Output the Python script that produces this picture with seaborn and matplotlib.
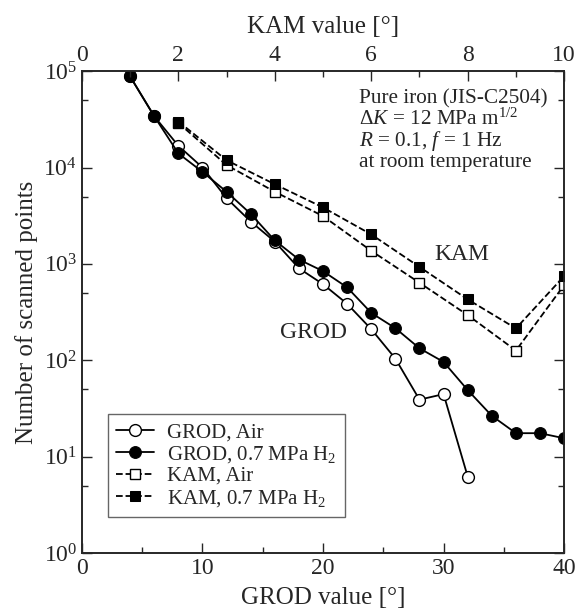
import numpy as np
import pandas as pd
import seaborn as sns
from matplotlib import pyplot as plt
from matplotlib import ticker

# GROD data (bottom axis, degrees)
grod_x_h2 = [4, 6, 8, 10, 12, 14, 16, 18, 20, 22, 24, 26, 28, 30, 32, 34, 36, 38, 40]
grod_h2 = [88000, 34000, 14000, 9000, 5600, 3300, 1750, 1110, 840, 570, 310, 215,
           133, 96, 49, 26.5, 17.5, 17.5, 15.5]
grod_x_air = [4, 6, 8, 10, 12, 14, 16, 18, 20, 22, 24, 26, 28, 30, 32]
grod_air = [88000, 34000, 16800, 10000, 4800, 2750, 1700, 900, 615, 385, 210, 104,
            39, 44.5, 6.2]

# KAM data (top axis, degrees)
kam_x = [2, 3, 4, 5, 6, 7, 8, 9, 10]
kam_h2 = [30000, 11900, 6700, 3850, 2020, 930, 428, 214, 747]
kam_air = [29000, 10600, 5600, 3130, 1365, 637, 294, 126, 603]

sns.set_style("ticks")
plt.rcParams["font.family"] = ["Liberation Serif", "DejaVu Serif"]
plt.rcParams["mathtext.fontset"] = "custom"
plt.rcParams["mathtext.rm"] = "Liberation Serif"
plt.rcParams["mathtext.it"] = "Liberation Serif:italic"
plt.rcParams["axes.linewidth"] = 1.2
plt.rcParams["xtick.direction"] = "in"
plt.rcParams["ytick.direction"] = "in"

f = plt.figure(figsize=(5.81, 6.08), dpi=100)
ax = f.add_axes([0.141, 0.0905, 0.83, 0.7925])

lw = 1.3
ms_c = 8.5
ms_s = 6.5

sns.lineplot(ax=ax, x=grod_x_air, y=grod_air, sort=False, color="k", lw=lw,
             marker="o", markersize=ms_c, markerfacecolor="white",
             markeredgecolor="k", markeredgewidth=1.0, label="GROD, Air")
sns.lineplot(ax=ax, x=grod_x_h2, y=grod_h2, sort=False, color="k", lw=lw,
             marker="o", markersize=ms_c, markerfacecolor="k",
             markeredgecolor="k", label="GROD, 0.7 MPa H$_2$")

ax2 = ax.twiny()
sns.lineplot(ax=ax2, x=kam_x, y=kam_air, sort=False, color="k", lw=lw,
             linestyle="--", marker="s", markersize=ms_s, markerfacecolor="white",
             markeredgecolor="k", markeredgewidth=1.0, label="KAM, Air")
sns.lineplot(ax=ax2, x=kam_x, y=kam_h2, sort=False, color="k", lw=lw,
             linestyle="--", marker="s", markersize=ms_s, markerfacecolor="k",
             markeredgecolor="k", label="KAM, 0.7 MPa H$_2$")

ax.set_yscale("log")
ax.set_ylim(1, 1e5)
ax.set_xlim(0, 40)
ax2.set_xlim(0, 10)

ax.xaxis.set_major_locator(ticker.MultipleLocator(10))
ax.xaxis.set_minor_locator(ticker.MultipleLocator(5))
ax2.xaxis.set_major_locator(ticker.MultipleLocator(2))
ax2.xaxis.set_minor_locator(ticker.MultipleLocator(1))
ax.yaxis.set_major_locator(ticker.LogLocator(base=10, numticks=10))
ax.yaxis.set_minor_locator(ticker.LogLocator(base=10, subs=[5], numticks=10))
ax.yaxis.set_minor_formatter(ticker.NullFormatter())
ax.yaxis.set_major_formatter(ticker.LogFormatterMathtext())

ax.tick_params(which="both", direction="in", right=True, top=False, labelsize=17, width=1.0)
ax.tick_params(which="major", length=7)
ax.tick_params(which="minor", length=4.5)
ax2.tick_params(which="both", direction="in", labelsize=17, width=1.0)
ax2.tick_params(which="major", length=7)
ax2.tick_params(which="minor", length=4.5)

ax.set_xlabel("GROD value [°]", fontsize=18, labelpad=6)
ax.set_ylabel("Number of scanned points", fontsize=18, labelpad=4)
ax2.set_xlabel("KAM value [°]", fontsize=18, labelpad=9)

ax.text(0.575, 0.962,
        "Pure iron (JIS-C2504)\n$\\Delta K$ = 12 MPa m$^{1/2}$\n"
        "$R$ = 0.1, $f$ = 1 Hz\nat room temperature",
        transform=ax.transAxes, fontsize=15.3, va="top", ha="left", linespacing=0.98)
ax.text(31.5, 1260, "KAM", fontsize=17, ha="center", va="center")
ax.text(19.25, 196, "GROD", fontsize=17, ha="center", va="center")

h1, l1 = ax.get_legend_handles_labels()
h2, l2 = ax2.get_legend_handles_labels()
if ax2.get_legend() is not None:
    ax2.get_legend().remove()
leg = ax.legend(h1 + h2, l1 + l2, loc="lower left", bbox_to_anchor=(0.054, 0.075),
                borderaxespad=0, fontsize=15, fancybox=False, framealpha=1,
                edgecolor="0.4", handlelength=1.8, handletextpad=0.65,
                labelspacing=0.08, borderpad=0.4)
leg.get_frame().set_linewidth(1.0)

f.savefig("out.png", dpi=100)
